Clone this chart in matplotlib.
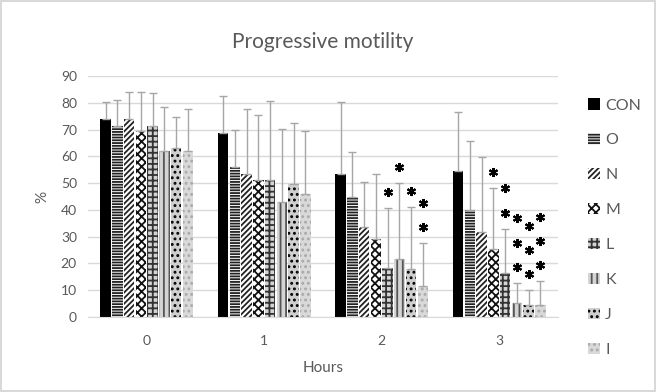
import matplotlib
matplotlib.use("Agg")
import matplotlib.pyplot as plt
import numpy as np

plt.rcParams['font.family'] = ['Lato', 'DejaVu Sans']

hours = ['0', '1', '2', '3']
series = ['CON', 'O', 'N', 'M', 'L', 'K', 'J', 'I']

# mean values per series (hours 0..3)
CON = [73.8, 68.7, 53.3, 54.6]
O_ = [71.4, 56.1, 44.7, 39.8]
N_ = [73.8, 53.5, 33.5, 31.9]
M_ = [69.6, 51.0, 29.2, 25.3]
L_ = [71.3, 51.0, 18.2, 16.3]
K_ = [62.0, 43.0, 21.5, 5.1]
J_ = [63.2, 49.8, 17.9, 4.4]
I_ = [62.0, 45.8, 11.7, 4.4]

# upper error bar tops
CON_top = [80.2, 82.6, 80.3, 76.7]
O_top = [81.0, 69.8, 61.7, 65.7]
N_top = [84.0, 77.7, 50.3, 59.6]
M_top = [84.0, 75.4, 53.5, 48.0]
L_top = [83.5, 80.5, 40.8, 33.0]
K_top = [78.5, 70.3, 49.9, 12.8]
J_top = [74.8, 72.6, 41.0, 10.0]
I_top = [77.8, 69.3, 27.5, 13.3]

# number of significance stars
CON_stars = [0, 0, 0, 0]
O_stars = [0, 0, 0, 0]
N_stars = [0, 0, 0, 0]
M_stars = [0, 0, 0, 1]
L_stars = [0, 0, 1, 2]
K_stars = [0, 0, 1, 3]
J_stars = [0, 0, 1, 3]
I_stars = [0, 0, 2, 3]

means = [CON, O_, N_, M_, L_, K_, J_, I_]
tops = [CON_top, O_top, N_top, M_top, L_top, K_top, J_top, I_top]
stars = [CON_stars, O_stars, N_stars, M_stars, L_stars, K_stars, J_stars, I_stars]

styles = [
    dict(fc='black', ec='black', hatch=None),
    dict(fc='white', ec='#222222', hatch='------'),
    dict(fc='white', ec='#222222', hatch='//////'),
    dict(fc='white', ec='#111111', hatch='xxxx'),
    dict(fc='#d4d4d4', ec='#333333', hatch='+++'),
    dict(fc='#d4d4d4', ec='#555555', hatch='|||'),
    dict(fc='#cfcfcf', ec='black', hatch='...'),
    dict(fc='#d9d9d9', ec='#aaaaaa', hatch='...'),
]

plt.rcParams['hatch.linewidth'] = 1.3

fig = plt.figure(figsize=(6.56, 3.92), dpi=100)
fig.patch.set_edgecolor('#d9d9d9')
fig.patch.set_linewidth(1.5)
ax = fig.add_axes([88/656, 1-317/392, 470/656, 241/392])

x = np.arange(len(hours))
step = 0.1
bw = 0.09
txtc = '#595959'
handles = []
for i, (m, t, s, st) in enumerate(zip(means, tops, stars, styles)):
    pos = x + (i - 3.5) * step
    m = np.array(m); t = np.array(t)
    bars = ax.bar(pos, m, width=bw, color=st['fc'], edgecolor=st['ec'], linewidth=0,
                  hatch=st['hatch'], zorder=2, label=series[i])
    ax.errorbar(pos, m, yerr=[np.zeros_like(m), t - m], fmt='none', ecolor='#a6a6a6',
                elinewidth=1, capsize=3, capthick=1, zorder=3)
    for j in range(len(hours)):
        for k in range(s[j]):
            ax.plot(pos[j], t[j] + 6 + 9 * k, marker=(6, 2, 0), ms=6.5, mew=1.5,
                    color='black', zorder=4, clip_on=False)
    handles.append(bars)

ax.set_ylim(0, 90)
ax.set_xlim(-0.5, 3.5)
ax.set_yticks(np.arange(0, 91, 10))
ax.set_xticks(x)
ax.set_xticklabels(hours)
ax.yaxis.grid(True, color='#d9d9d9', linewidth=1)
ax.set_axisbelow(True)
for sp in ['top', 'right', 'left']:
    ax.spines[sp].set_visible(False)
ax.spines['bottom'].set_color('#d9d9d9')
ax.tick_params(axis='both', length=0, colors=txtc, labelsize=10)
ax.tick_params(axis='y', pad=8)
ax.tick_params(axis='x', pad=13)
ax.set_ylabel('%', color=txtc, fontsize=11, labelpad=8)
ax.set_xlabel('Hours', color=txtc, fontsize=11, labelpad=10)
fig.text(323/656, 1-42/392, 'Progressive motility', ha='center', va='center',
         fontsize=15, color=txtc)

leg = fig.legend(handles=handles, labels=series, loc='upper left',
                 bbox_to_anchor=(574/656, 1-84/392), frameon=False,
                 handlelength=0.7, handleheight=0.7, handletextpad=0.35,
                 labelspacing=1.3, fontsize=11.5, labelcolor=txtc)

fig.savefig('out.png', dpi=100)
